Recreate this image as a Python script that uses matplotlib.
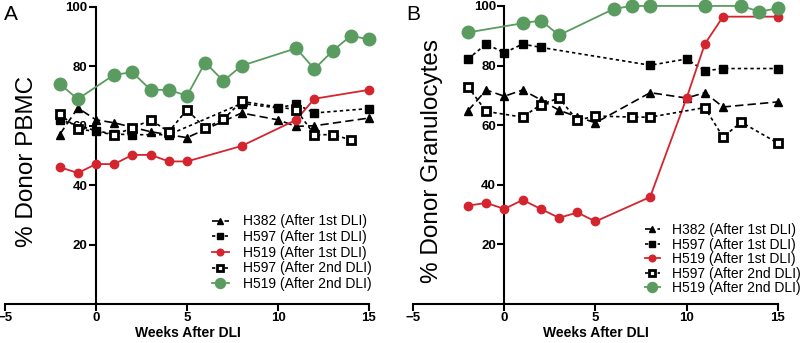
import numpy as np
import matplotlib.pyplot as plt

plt.rcParams['font.family'] = ['Liberation Sans', 'DejaVu Sans']

RED = '#d4252f'
GREEN = '#5a9c5f'

labels = ['H382 (After 1st DLI)', 'H597 (After 1st DLI)', 'H519 (After 1st DLI)',
          'H597 (After 2nd DLI)', 'H519 (After 2nd DLI)']

# panel A - PBMC
a_h382_wk = [-2, -1, 0, 1, 3, 5, 8, 10, 11, 12, 15]
a_h382 = [57, 66, 62, 61, 58, 56, 64.3, 62, 59.8, 60, 62.6]
a_h597_wk = [-2, 0, 1, 2, 4, 8, 10, 11, 12, 15]
a_h597 = [62, 58.3, 57.2, 57, 57, 67.5, 66, 67.3, 64.3, 65.8]
a_h519_wk = [-2, -1, 0, 1, 2, 3, 4, 5, 8, 11, 12, 15]
a_h519 = [46.1, 44.1, 47.1, 47.1, 50.2, 50.2, 48, 48, 53.2, 62, 69.1, 72.1]
a_h597b_wk = [-2, -1, 1, 2, 3, 4, 5, 6, 7, 8, 11, 12, 13, 14]
a_h597b = [64, 59, 57, 59.2, 62, 58, 65.4, 59.2, 62.2, 68.2, 65.4, 57, 57, 55.3]
a_h519b_wk = [-2, -1, 1, 2, 3, 4, 5, 6, 7, 8, 11, 12, 13, 14, 15]
a_h519b = [74.1, 69, 77.2, 78, 72.1, 72.1, 70.1, 81.3, 75.1, 80.2, 86.1, 79.1, 85.2, 90.3, 89.1]

# panel B - granulocytes
b_h382_wk = [-2, -1, 0, 1, 2, 3, 4, 5, 8, 10, 11, 12, 15]
b_h382 = [64.8, 71.8, 69.7, 71.8, 68.5, 65, 62.8, 60.8, 70.9, 69.1, 70.9, 66.1, 67.8]
b_h597_wk = [-2, -1, 0, 1, 2, 8, 10, 11, 12, 15]
b_h597 = [82.2, 87.2, 84.3, 87.2, 86.1, 80.1, 82.2, 78.2, 79, 79]
b_h519_wk = [-2, -1, 0, 1, 2, 3, 4, 5, 8, 10, 11, 12, 15]
b_h519 = [33, 33.9, 31.9, 34.9, 31.9, 28.9, 30.7, 27.7, 35.9, 69.1, 87.2, 96.4, 96.4]
b_h597b_wk = [-2, -1, 1, 2, 3, 4, 5, 7, 8, 11, 12, 13, 15]
b_h597b = [72.9, 64.6, 62.7, 66.9, 69.1, 61.6, 63.1, 62.7, 62.7, 65.9, 56, 61, 54]
b_h519b_wk = [-2, 1, 2, 3, 6, 7, 8, 11, 13, 14, 15]
b_h519b = [91.1, 94.2, 95.1, 90.2, 99, 100, 100, 100, 100, 98.1, 99.2]

styles = [
    dict(color='black', ls=(0, (5, 2.5)), marker='^', ms=5.5, mfc='black', mec='black', lw=1.2),
    dict(color='black', ls=(0, (2, 1.8)), marker='s', ms=5.5, mfc='black', mec='black', lw=1.2),
    dict(color=RED, ls='-', marker='o', ms=6, mfc=RED, mec=RED, lw=1.3),
    dict(color='black', ls=(0, (2, 1.8)), marker='s', ms=6, mfc='white', mec='black', mew=2.0, lw=1.2),
    dict(color=GREEN, ls='-', marker='o', ms=9, mfc=GREEN, mec=GREEN, lw=1.3),
]


def setup(ax, ylabel):
    ax.set_xlim(-5, 15)
    ax.set_ylim(0, 100)
    ax.spines['left'].set_position(('data', 0))
    ax.spines['left'].set_bounds(0, 100)
    ax.spines['right'].set_visible(False)
    ax.spines['top'].set_visible(False)
    ax.spines['left'].set_linewidth(1.5)
    ax.spines['bottom'].set_linewidth(1.5)
    ax.set_xticks([-5, 0, 5, 10, 15])
    ax.set_yticks([20, 40, 60, 80, 100])
    ax.tick_params(width=1.5, length=5, labelsize=9.5, pad=1)
    for t in ax.get_xticklabels() + ax.get_yticklabels():
        t.set_fontweight('bold')
    ax.set_xlabel('Weeks After DLI', fontsize=10, fontweight='bold')
    ax.set_ylabel(ylabel, fontsize=17.5)
    ax.patch.set_alpha(0)


fig = plt.figure(figsize=(8, 3.43), dpi=100)
axA = fig.add_axes([0.00625, 0.1137, 0.455, 0.866])
axB = fig.add_axes([0.5166, 0.1137, 0.4555, 0.869])

dataA = [(a_h382_wk, a_h382), (a_h597_wk, a_h597), (a_h519_wk, a_h519),
         (a_h597b_wk, a_h597b), (a_h519b_wk, a_h519b)]
dataB = [(b_h382_wk, b_h382), (b_h597_wk, b_h597), (b_h519_wk, b_h519),
         (b_h597b_wk, b_h597b), (b_h519b_wk, b_h519b)]

for ax, data in [(axA, dataA), (axB, dataB)]:
    for (wk, vals), st, lab in zip(data, styles, labels):
        ax.plot(wk, vals, label=lab, clip_on=False, zorder=3, **st)

setup(axA, '% Donor PBMC')
setup(axB, '% Donor Granulocytes')
axA.yaxis.set_label_coords(0.047, 0.53, transform=fig.transFigure)
axB.yaxis.set_label_coords(0.554, 0.53, transform=fig.transFigure)
axA.xaxis.label.set_va('center')
axB.xaxis.label.set_va('center')
axA.xaxis.set_label_coords(0.235, 0.03, transform=fig.transFigure)
axB.xaxis.set_label_coords(0.745, 0.03, transform=fig.transFigure)

fig.text(0.005, 0.985, 'A', fontsize=15, va='top', ha='left')
fig.text(0.508, 0.985, 'B', fontsize=15, va='top', ha='left')

axA.legend(loc='upper left', bbox_to_anchor=(0.265, 0.375), bbox_transform=fig.transFigure,
           frameon=False, fontsize=10, handlelength=1.2, handletextpad=1.0, markerscale=0.8,
           labelspacing=0.12, borderpad=0, borderaxespad=0)
axB.legend(loc='upper left', bbox_to_anchor=(0.806, 0.35), bbox_transform=fig.transFigure,
           frameon=False, fontsize=10, handlelength=1.1, handletextpad=0.85, markerscale=0.8,
           labelspacing=0.04, borderpad=0, borderaxespad=0)

fig.savefig('out.png', dpi=100)
